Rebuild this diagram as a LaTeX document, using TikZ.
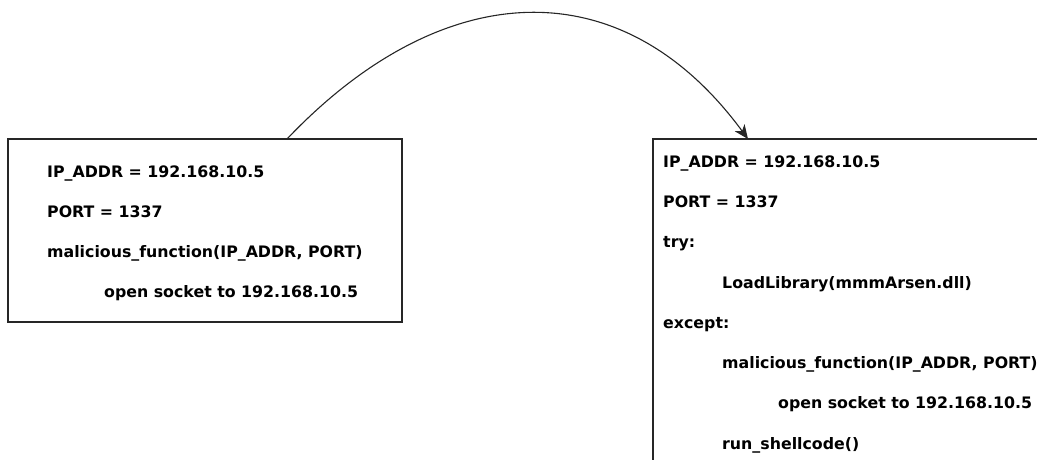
\documentclass[tikz,border=0pt]{standalone}
\usepackage{fontspec}
\setmainfont{DejaVu Sans}
\usetikzlibrary{arrows.meta}
\begin{document}
\begin{tikzpicture}[x=1pt,y=-1pt,
  box/.style={draw=black!85,line width=1.1pt,rectangle,inner sep=0pt,outer sep=0pt},
  code/.style={anchor=base west,inner sep=0pt,font=\fontsize{15.8}{18}\selectfont\bfseries,text=black}]
\useasboundingbox (0,0) rectangle (1037,459);
\clip (0,0) rectangle (1037,459);
% left box
\node[box,minimum width=394pt,minimum height=183pt] (L) at (205,230.5) {};
\node[code] (l1) at (47,177) {IP\_ADDR = 192.168.10.5};
\node[code] (l2) at (47,217) {PORT = 1337};
\node[code] (l3) at (47,257) {malicious\_function(IP\_ADDR, PORT)};
\node[code] (l4) at (104,297) {open socket to 192.168.10.5};
% right box
\node[box,minimum width=447pt,minimum height=381pt] (R) at (876.5,329.5) {};
\node[code] (r1) at (663,167) {IP\_ADDR = 192.168.10.5};
\node[code] (r2) at (663,207) {PORT = 1337};
\node[code] (r3) at (663,247.5) {try:};
\node[code] (r4) at (722,288) {LoadLibrary(mmmArsen.dll)};
\node[code] (r5) at (663,328) {except:};
\node[code] (r6) at (722,368) {malicious\_function(IP\_ADDR, PORT)};
\node[code] (r7) at (778,408.5) {open socket to 192.168.10.5};
\node[code] (r8) at (722,449) {run\_shellcode()};
% arrow
\coordinate (a) at ([xshift=279pt]L.north west);
\coordinate (b) at ([xshift=95pt]R.north west);
\draw[black!85,line width=1.1pt,-{Stealth[length=14pt,width=12pt,inset=4pt]}] (a) .. controls (440,-22) and (620,-35) .. (b);
\end{tikzpicture}
\end{document}
